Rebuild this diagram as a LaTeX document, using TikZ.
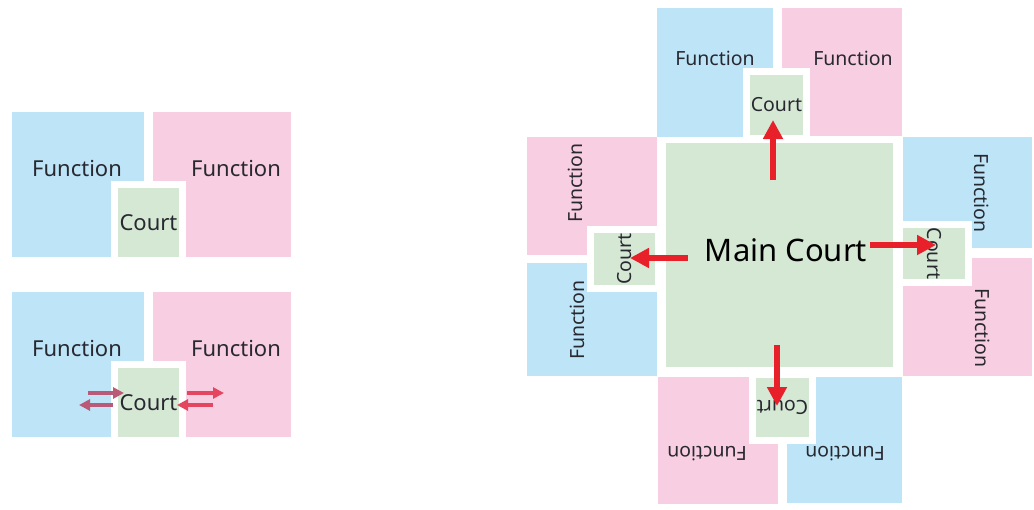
\documentclass[tikz,border=0pt]{standalone}
\usepackage{fontspec}
\setmainfont{Noto Sans}
\usetikzlibrary{arrows.meta}
\definecolor{bleu}{RGB}{189,229,247}
\definecolor{rose}{RGB}{248,207,226}
\definecolor{vert}{RGB}{213,232,212}
\definecolor{rouge}{RGB}{232,32,42}
\definecolor{rougeclair}{RGB}{228,70,95}
\definecolor{mauve}{RGB}{185,90,120}
\definecolor{encre}{RGB}{40,40,48}
\begin{document}
\begin{tikzpicture}[x=1pt,y=-1pt]
  \tikzstyle{boite}=[inner sep=0pt, outer sep=0pt, text=encre]
  \tikzstyle{cour}=[boite, fill=vert, draw=white, line width=7pt]
  \tikzstyle{mot}=[inner sep=0pt, text=encre]
  \tikzstyle{grand}=[font=\fontsize{22}{26}\selectfont]
  \tikzstyle{moyen}=[font=\fontsize{19.5}{23}\selectfont]
  \tikzstyle{flecherouge}=[-{Triangle[length=19pt,width=19pt]}, line width=6pt, draw=rouge]
  \tikzstyle{petitefleche}=[-{Triangle[length=11pt,width=11pt]}, line width=4pt]
  \useasboundingbox (0,0) rectangle (1034,509);
  % left: the two small plans
  \foreach \n/\dy in {1/0,2/180} {
    \node[boite, fill=bleu, minimum width=132pt, minimum height=145pt] (b\n) at (78,184.5+\dy) {};
    \node[boite, fill=rose, minimum width=138pt, minimum height=145pt] (r\n) at (222,184.5+\dy) {};
    \node[mot, grand] (tb\n) at (77,168+\dy) {Function};
    \node[mot, grand] (tr\n) at (236,168+\dy) {Function};
    \node[cour, grand, minimum width=68pt, minimum height=76pt] (c\n) at (148.5,222.5+\dy) {Court};
  }
  \coordinate (ga1) at (88,393);  \coordinate (ga2) at (124,393);
  \coordinate (gb1) at (113,405); \coordinate (gb2) at (79,405);
  \coordinate (da1) at (187,393); \coordinate (da2) at (224,393);
  \coordinate (db1) at (213,405); \coordinate (db2) at (177,405);
  \draw[petitefleche, mauve] (ga1) -- (ga2);
  \draw[petitefleche, mauve] (gb1) -- (gb2);
  \draw[petitefleche, rougeclair] (da1) -- (da2);
  \draw[petitefleche, rougeclair] (db1) -- (db2);
  % right: main court with four wings
  \foreach \n/\c/\x/\y/\w/\h/\tx/\ty/\r in {
      hg/bleu/715/72.5/116/129/715/58/0,
      hd/rose/842/72/120/128/853/58/0,
      dh/bleu/967.5/192.5/129/111/982/193/-90,
      db/rose/967.5/317/129/118/983/328/-90,
      bg/rose/718/440.5/120/127/707/454/180,
      bd/bleu/844.5/440/115/126/845/454/180,
      gh/rose/592/196/130/118/575/183/90,
      gb/bleu/592/319.5/130/113/577/320/90} {
    \node[boite, fill=\c, minimum width=\w pt, minimum height=\h pt] (f\n) at (\x,\y) {};
    \node[mot, moyen, rotate=\r] (t\n) at (\tx,\ty) {Function};
  }
  \node[boite, fill=vert, minimum width=227pt, minimum height=224pt] (mc) at (779.5,255) {};
  \node[mot, text=black, font=\fontsize{31}{35}\selectfont] (tmc) at (786,250) {Main Court};
  \foreach \n/\x/\y/\w/\h/\r in {
      hc/776.5/105/60/67/0,
      dc/934/253.5/58/69/-90,
      bc/782.5/407.5/60/66/180,
      gc/624.5/259/59/68/90} {
    \node[cour, moyen, rotate=\r, minimum width=\w pt, minimum height=\h pt] (\n) at (\x,\y) {Court};
  }
  \coordinate (mh) at (773,180); \coordinate (ph) at (773,120);
  \coordinate (md) at (870,245); \coordinate (pd) at (936,245);
  \coordinate (mb) at (777,345); \coordinate (pb) at (777,406);
  \coordinate (mg) at (688,258); \coordinate (pg) at (630,258);
  \foreach \a/\b in {mh/ph,md/pd,mb/pb,mg/pg} {
    \draw[flecherouge] (\a) -- (\b);
  }
\end{tikzpicture}
\end{document}
